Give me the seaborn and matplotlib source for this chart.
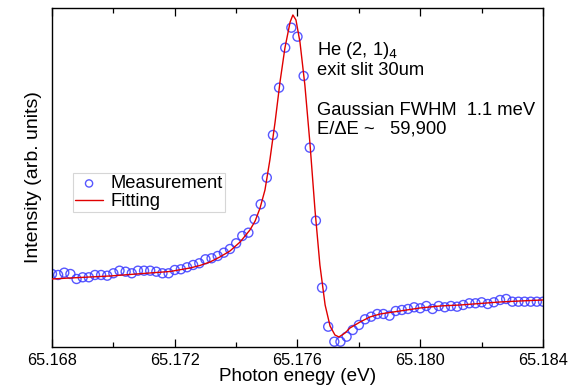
import numpy as np
import pandas as pd
import matplotlib
matplotlib.use('Agg')
import matplotlib.pyplot as plt
import seaborn as sns

# Datos medidos (energía en eV, intensidad en unidades arbitrarias)
energy = [
    65.1680, 65.1682, 65.1684, 65.1686, 65.1688, 65.1690, 65.1692, 65.1694, 65.1696, 65.1698,
    65.1700, 65.1702, 65.1704, 65.1706, 65.1708, 65.1710, 65.1712, 65.1714, 65.1716, 65.1718,
    65.1720, 65.1722, 65.1724, 65.1726, 65.1728, 65.1730, 65.1732, 65.1734, 65.1736, 65.1738,
    65.1740, 65.1742, 65.1744, 65.1746, 65.1748, 65.1750, 65.1752, 65.1754, 65.1756, 65.1758,
    65.1760, 65.1762, 65.1764, 65.1766, 65.1768, 65.1770, 65.1772, 65.1774, 65.1776, 65.1778,
    65.1780, 65.1782, 65.1784, 65.1786, 65.1788, 65.1790, 65.1792, 65.1794, 65.1796, 65.1798,
    65.1800, 65.1802, 65.1804, 65.1806, 65.1808, 65.1810, 65.1812, 65.1814, 65.1816, 65.1818,
    65.1820, 65.1822, 65.1824, 65.1826, 65.1828, 65.1830, 65.1832, 65.1834, 65.1836, 65.1838,
    65.1840,
]
intensity = [
    73, 72, 74.3, 73, 68, 69.7, 69.7, 72, 72, 71.3,
    73.7, 76.3, 75.3, 73.7, 76.3, 76.3, 76.3, 75.3, 73.7, 73.7,
    77, 77.7, 79.7, 82, 83.7, 87.7, 88.7, 91, 94.3, 98,
    103.7, 111, 114.3, 127.7, 142.7, 169.3, 212, 259.3, 299.3, 319.3,
    310.3, 271, 199.3, 126.3, 59.3, 20.3, 5.3, 5.3, 10.3, 17,
    22, 27.7, 30.3, 33, 33, 31.3, 36, 37, 38, 39.7,
    38.7, 41, 38, 41, 39.7, 41, 40.3, 42, 43.7, 43.7,
    44.7, 43, 44.7, 47, 48, 45.3, 45.3, 45.3, 45.3, 45.3,
    45.3,
]

# Curva ajustada
fit_energy = [
    65.16800, 65.16859, 65.16924, 65.16989, 65.17054, 65.17119, 65.17185, 65.17250,
    65.17282, 65.17315, 65.17347, 65.17380, 65.17413, 65.17445, 65.17462, 65.17478,
    65.17494, 65.17510, 65.17527, 65.17543, 65.17559, 65.17576, 65.17585, 65.17595,
    65.17608, 65.17624, 65.17641, 65.17657, 65.17673, 65.17690, 65.17706, 65.17722,
    65.17735, 65.17755, 65.17771, 65.17804, 65.17836, 65.17869, 65.17934, 65.17999,
    65.18064, 65.18130, 65.18195, 65.18260, 65.18325, 65.18400,
]
fit_intensity = [
    68, 69, 70, 71, 72.5, 74, 75.5, 79,
    81.5, 85, 90, 96, 105, 117, 126, 139,
    157, 187, 225, 265, 299, 325, 332, 327,
    305, 262, 202, 137, 82, 42, 21, 12,
    10, 14, 19, 25, 30, 33, 36, 39,
    41, 42, 43.5, 45, 46, 47,
]

x_ticks = [65.168, 65.172, 65.176, 65.180, 65.184]
x_minor = [65.170, 65.174, 65.178, 65.182]

annotations = ['He (2, 1)$_4$', 'exit slit 30um', 'Gaussian FWHM  1.1 meV', 'E/ΔE ~   59,900']
annot_y = [0.861, 0.802, 0.684, 0.630]

df = pd.DataFrame({'energy': energy, 'intensity': intensity})
df_fit = pd.DataFrame({'energy': fit_energy, 'intensity': fit_intensity})

sns.set_style('ticks')
plt.rcParams['font.family'] = ['Liberation Sans', 'DejaVu Sans']
plt.rcParams['text.color'] = 'black'
plt.rcParams['axes.labelcolor'] = 'black'
plt.rcParams['xtick.color'] = 'black'

fig = plt.figure(figsize=(5.72, 3.89), dpi=100)
ax = fig.add_axes([0.0909, 0.108, 0.8584, 0.8715])

sns.scatterplot(data=df, x='energy', y='intensity', ax=ax, marker='o',
                facecolors='none', edgecolor='#3a3aff', linewidth=1.0, s=42,
                alpha=0.85, label='Measurement', zorder=2)
sns.lineplot(data=df_fit, x='energy', y='intensity', ax=ax, color='#e00000',
             linewidth=1.0, label='Fitting', zorder=3)

ax.set_xlim(65.168, 65.184)
ax.set_ylim(0, 339)
ax.set_xticks(x_ticks)
ax.set_xticklabels([f'{t:.3f}' for t in x_ticks])
ax.set_xticks(x_minor, minor=True)
ax.set_yticks([])
ax.tick_params(axis='x', which='major', direction='in', top=True, bottom=True,
               length=6, width=0.9, labelsize=11.7, pad=4)
ax.tick_params(axis='x', which='minor', direction='in', top=True, bottom=True,
               length=3.5, width=0.9)
for sp in ax.spines.values():
    sp.set_visible(True)
    sp.set_linewidth(1.0)
    sp.set_color('black')

ax.set_xlabel('Photon enegy (eV)', fontsize=13.6, labelpad=0)
ax.set_ylabel('Intensity (arb. units)', fontsize=14, labelpad=7)

for txt, yy in zip(annotations, annot_y):
    ax.text(0.539, yy, txt, transform=ax.transAxes, fontsize=13.2,
            va='baseline', ha='left')

leg = ax.legend(loc='upper left', bbox_to_anchor=(0.043, 0.513), borderaxespad=0,
                fontsize=13.2, frameon=True, fancybox=False, handlelength=1.5,
                handletextpad=0.4, labelspacing=0.05, borderpad=0.12,
                markerscale=0.8)
leg.get_frame().set_edgecolor('#cccccc')
leg.get_frame().set_linewidth(0.8)

fig.savefig('out.png', dpi=100)
